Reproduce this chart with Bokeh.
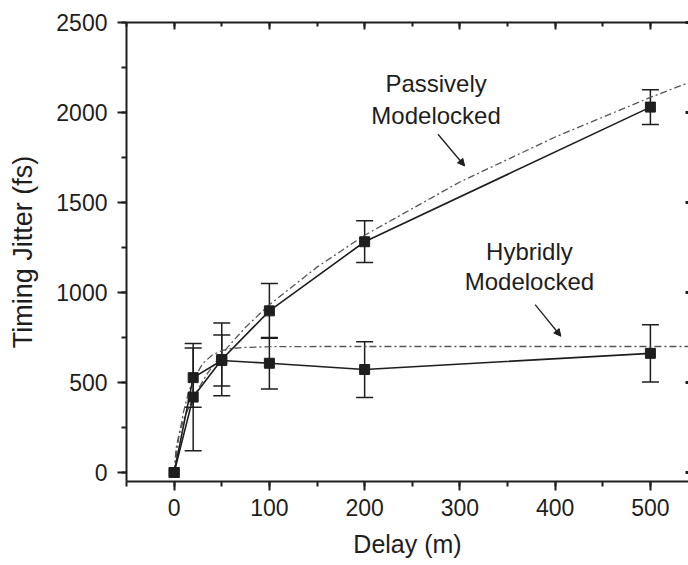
from bokeh.plotting import figure
from bokeh.models import (Range1d, LinearAxis, SingleIntervalTicker, Whisker, TeeHead,
                          ColumnDataSource, Label, Arrow, NormalHead, CustomJSTickFormatter)
from bokeh.embed import file_html
from bokeh.resources import INLINE

# ---- data ----
delay = [0, 20, 50, 100, 200, 500]
passive_jitter = [0, 419, 628, 898, 1282, 2030]
passive_err = [0, 298, 202, 152, 116, 96]
hybrid_jitter = [0, 527, 622, 607, 572, 662]
hybrid_err = [0, 164, 142, 143, 155, 159]

passive_fit_x = [0, 2, 5, 10, 20, 35, 50, 75, 100, 150, 200, 300, 400, 500, 545]
passive_fit_y = [0, 132, 208, 295, 417, 551, 659, 807, 932, 1141, 1318, 1614, 1864, 2084, 2176]
hybrid_fit_x = [0, 2, 5, 10, 15, 20, 30, 40, 50, 60, 75, 100, 150, 200, 300, 400, 500, 545]
hybrid_fit_y = [0, 87, 198, 340, 442, 516, 605, 653, 677, 689, 695, 699, 700, 700, 700, 700, 700, 700]

FONT = "Liberation Sans"
INK = "#1e1e1e"

p = figure(width=688, height=565, x_range=Range1d(-50, 540), y_range=Range1d(-50, 2500),
           output_backend="svg", toolbar_location=None,
           min_border_left=126, min_border_top=22, min_border_bottom=84, min_border_right=0,
           x_axis_label="Delay (m)", y_axis_label="Timing Jitter (fs)")
p.grid.visible = False
p.outline_line_color = None
p.background_fill_color = "white"
p.border_fill_color = "white"

xt = SingleIntervalTicker(interval=100, num_minor_ticks=2)
yt = SingleIntervalTicker(interval=500, num_minor_ticks=2)

for ax in (p.xaxis[0], p.yaxis[0]):
    ax.ticker = xt if ax is p.xaxis[0] else yt
    ax.axis_line_width = 2
    ax.axis_line_color = INK
    ax.major_tick_line_width = 2
    ax.major_tick_line_color = INK
    ax.minor_tick_line_width = 2
    ax.minor_tick_line_color = INK
    ax.major_tick_in = 0
    ax.major_tick_out = 9
    ax.minor_tick_in = 0
    ax.minor_tick_out = 5
    ax.major_label_text_font = FONT
    ax.major_label_text_font_size = "23px"
    ax.major_label_text_color = INK
    ax.axis_label_text_font = FONT
    ax.axis_label_text_font_style = "normal"
    ax.axis_label_text_color = INK

p.xaxis[0].axis_label_text_font_size = "25px"
p.yaxis[0].axis_label_text_font_size = "27px"
p.yaxis[0].major_label_standoff = 10
p.yaxis[0].axis_label_standoff = 15
p.xaxis[0].major_label_standoff = 8
p.xaxis[0].axis_label_standoff = 11

blank = CustomJSTickFormatter(code="return ''")
top = LinearAxis(ticker=xt, formatter=blank, major_tick_in=7, major_tick_out=0,
                 minor_tick_in=4, minor_tick_out=0, axis_line_width=2, axis_line_color=INK,
                 major_tick_line_width=2, minor_tick_line_width=2,
                 major_tick_line_color=INK, minor_tick_line_color=INK,
                 major_label_standoff=0)
right = LinearAxis(ticker=yt, formatter=blank, major_tick_in=3, major_tick_out=0,
                   minor_tick_in=0, minor_tick_out=0, axis_line_color=None,
                   major_tick_line_width=3, major_tick_line_color=INK,
                   major_label_standoff=0)
p.add_layout(top, "above")
p.add_layout(right, "right")

# fits
p.line(passive_fit_x, passive_fit_y, line_color="#555555", line_width=1.3, line_dash="7 3 2 3")
p.line(hybrid_fit_x, hybrid_fit_y, line_color="#555555", line_width=1.3, line_dash="7 3 2 3")

# data lines
p.line(delay, passive_jitter, line_color=INK, line_width=1.6)
p.line(delay, hybrid_jitter, line_color=INK, line_width=1.6)

# error bars
for ys, es in ((passive_jitter, passive_err), (hybrid_jitter, hybrid_err)):
    xs = [x for x, e in zip(delay, es) if e > 0]
    up = [y + e for y, e in zip(ys, es) if e > 0]
    lo = [y - e for y, e in zip(ys, es) if e > 0]
    src = ColumnDataSource(dict(x=xs, upper=up, lower=lo))
    w = Whisker(base="x", upper="upper", lower="lower", source=src,
                line_color=INK, line_width=1.5,
                upper_head=TeeHead(size=17, line_color=INK, line_width=1.5),
                lower_head=TeeHead(size=17, line_color=INK, line_width=1.5))
    p.add_layout(w)

p.scatter(delay, passive_jitter, marker="square", size=10, fill_color=INK, line_color=INK)
p.scatter(delay, hybrid_jitter, marker="square", size=10, fill_color=INK, line_color=INK)

# annotations
for txt, x, y in (("Passively", 275, 2159), ("Modelocked", 275, 1981),
                  ("Hybridly", 373, 1230), ("Modelocked", 373, 1063)):
    p.add_layout(Label(x=x, y=y, text=txt, text_align="center", text_baseline="middle",
                       text_font=FONT, text_font_size="24px", text_color=INK))

for xs, ys, xe, ye in ((277, 1879, 305, 1703), (379, 933, 406, 757)):
    p.add_layout(Arrow(x_start=xs, y_start=ys, x_end=xe, y_end=ye, line_color=INK, line_width=1.3,
                       end=NormalHead(size=7, fill_color=INK, line_color=INK)))

open("out.html", "w").write(file_html(p, INLINE))
